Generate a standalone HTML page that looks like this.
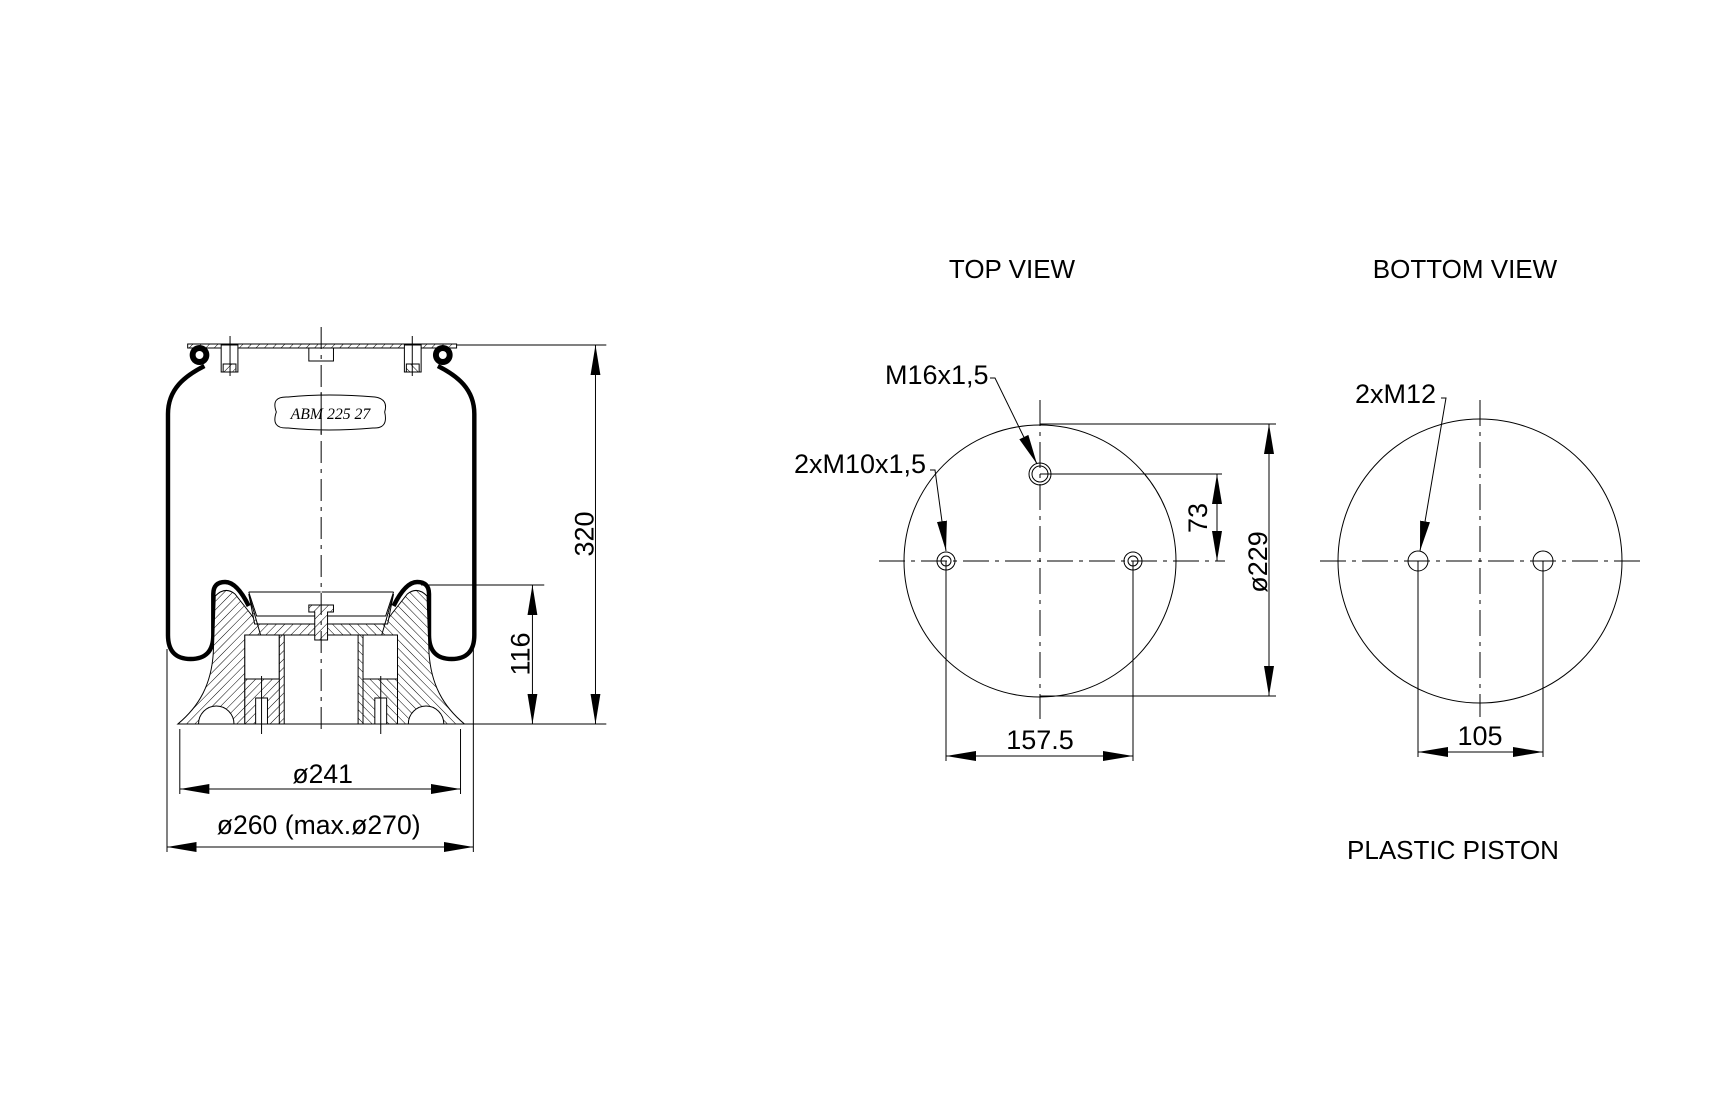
<!DOCTYPE html>
<html><head><meta charset="utf-8"><style>
html,body{margin:0;padding:0;background:#fff;}
svg{display:block;}
text{font-family:"Liberation Sans Narrow","Liberation Sans",sans-serif;fill:#000;}
</style></head><body>
<svg width="1723" height="1115" viewBox="0 0 1723 1115" xmlns="http://www.w3.org/2000/svg">
<defs>
<pattern id="h" width="6" height="6" patternUnits="userSpaceOnUse" patternTransform="rotate(45)">
<rect width="6" height="6" fill="#fff"/><line x1="0" y1="0" x2="0" y2="6" stroke="#000" stroke-width="1"/></pattern>
<marker id="a" viewBox="0 0 30 10" refX="30" refY="5" markerWidth="30" markerHeight="10" markerUnits="userSpaceOnUse" orient="auto-start-reverse"><path d="M0 0 L30 5 L0 10 Z" fill="#000"/></marker>
<g id="half">
 <path d="M205 372 C185 382 168 395 168 420 L168 641 Q168 665 191 665 Q214 665 214 641 L214 600 Q214 588 226 588 Q238 588 250 612" fill="none" stroke="#000" stroke-width="4.5"/>
 <circle cx="200" cy="361" r="10" fill="#000"/><circle cx="200" cy="361" r="4" fill="#fff"/>
 <path d="M178 730 C200 712 212 690 214 659 L216 602 Q226 592 236 600 L252 620 L262 634 L262 641 L246 641 L246 730 Z" fill="url(#h)" stroke="#000" stroke-width="1"/>
 <path d="M199 730 A18 18 0 0 1 235 730 Z" fill="#fff" stroke="#000" stroke-width="1"/>
 <rect x="246" y="641" width="35" height="44" fill="#fff" stroke="#000" stroke-width="1"/>
 <rect x="246" y="685" width="38" height="45" fill="url(#h)" stroke="#000" stroke-width="1"/>
 <rect x="257" y="704" width="12" height="26" fill="#fff" stroke="#000" stroke-width="1"/>
 <line x1="263" y1="682" x2="263" y2="740" stroke="#000"/>
 <rect x="281" y="641" width="5" height="89" fill="url(#h)" stroke="#000" stroke-width="1"/>
 <path d="M250 600 L256 630 L323 630 L323 641 L262 641 Z" fill="url(#h)" stroke="#000" stroke-width="1"/>
 <line x1="250" y1="598" x2="323" y2="598" stroke="#000"/>
 <path d="M250 598 L258 622 L323 622" fill="none" stroke="#000"/>
 <rect x="222" y="351" width="17" height="27" fill="#fff" stroke="#000"/>
 <rect x="224" y="370" width="13" height="8" fill="url(#h)" stroke="#000"/>
 <line x1="231" y1="342" x2="231" y2="382" stroke="#000"/>
</g>
</defs>

<g transform="translate(167,-6) scale(0.985,1) translate(-167,0)">
<rect x="188" y="350" width="273" height="4" fill="url(#h)" stroke="#000" stroke-width="1"/>
<rect x="311" y="354" width="25" height="13" fill="#fff" stroke="#000"/>
<use href="#half"/>
<use href="#half" transform="translate(647,0) scale(-1,1)"/>
<path d="M311 611 L336 611 L336 618 L330 618 L330 646 L317 646 L317 618 L311 618 Z" fill="url(#h)" stroke="#000"/>
<line x1="323.5" y1="333" x2="323.5" y2="740" stroke="#000" stroke-dasharray="22,6,4,6"/>
<path d="M278 418 Q272 402 290 403 Q330 399 378 403 Q392 405 388 418 Q392 435 376 434 Q330 438 290 434 Q272 435 278 418 Z" fill="#fff" stroke="#000" stroke-width="1"/>
<text x="333" y="425" font-style="italic" font-size="16" text-anchor="middle" style="font-family:'Liberation Serif',serif">ABM  225  27</text>
<line x1="323.5" y1="398" x2="323.5" y2="440" stroke="#000"/>
<g stroke="#000" stroke-width="1" fill="none">
<line x1="461" y1="351" x2="613" y2="351"/>
<line x1="178" y1="730" x2="613" y2="730"/>
<line x1="425" y1="591" x2="550" y2="591"/>
<line x1="602" y1="351" x2="602" y2="730" marker-start="url(#a)" marker-end="url(#a)"/>
<line x1="538" y1="591" x2="538" y2="730" marker-start="url(#a)" marker-end="url(#a)"/>
<line x1="180" y1="735" x2="180" y2="800"/>
<line x1="465" y1="735" x2="465" y2="800"/>
<line x1="180" y1="795" x2="465" y2="795" marker-start="url(#a)" marker-end="url(#a)"/>
<line x1="167" y1="655" x2="167" y2="858"/>
<line x1="478" y1="655" x2="478" y2="858"/>
<line x1="167" y1="853" x2="478" y2="853" marker-start="url(#a)" marker-end="url(#a)"/>
</g>
<text x="325" y="789" font-size="27" text-anchor="middle">ø241</text>
<text x="321" y="840" font-size="27" text-anchor="middle">ø260  (max.ø270)</text>
<text transform="translate(600,540) rotate(-90)" font-size="27" text-anchor="middle">320</text>
<text transform="translate(535,660) rotate(-90)" font-size="27" text-anchor="middle">116</text>
</g>

<text x="1012" y="278" font-size="26" text-anchor="middle">TOP  VIEW</text>
<text x="1465" y="278" font-size="26" text-anchor="middle">BOTTOM  VIEW</text>
<text x="1453" y="859" font-size="26" text-anchor="middle">PLASTIC  PISTON</text>

<g transform="translate(-3,-4)">
<g stroke="#000" stroke-width="1" fill="none">
<circle cx="1043" cy="565" r="136"/>
<line x1="882" y1="565" x2="1228" y2="565" stroke-dasharray="26,6,4,6"/>
<line x1="1043" y1="404" x2="1043" y2="723" stroke-dasharray="26,6,4,6"/>
<circle cx="1043" cy="478" r="11"/><circle cx="1043" cy="478" r="8"/>
<circle cx="949" cy="565" r="9"/><circle cx="949" cy="565" r="5"/>
<circle cx="1136" cy="565" r="9"/><circle cx="1136" cy="565" r="5"/>
<line x1="1043" y1="478" x2="1225" y2="478"/>
<line x1="1220" y1="478" x2="1220" y2="565" marker-start="url(#a)" marker-end="url(#a)"/>
<line x1="1043" y1="428" x2="1279" y2="428"/>
<line x1="1043" y1="700" x2="1279" y2="700"/>
<line x1="1272" y1="428" x2="1272" y2="700" marker-start="url(#a)" marker-end="url(#a)"/>
<line x1="949" y1="565" x2="949" y2="765"/>
<line x1="1136" y1="565" x2="1136" y2="765"/>
<line x1="949" y1="760" x2="1136" y2="760" marker-start="url(#a)" marker-end="url(#a)"/>
<polyline points="993,382 998,382 1040,468" marker-end="url(#a)"/>
<polyline points="933,474 938,474 949,555" marker-end="url(#a)"/>
</g>
<text x="888" y="388" font-size="27">M16x1,5</text>
<text x="797" y="477" font-size="27">2xM10x1,5</text>
<text x="1043" y="753" font-size="27" text-anchor="middle">157.5</text>
<text transform="translate(1210,522) rotate(-90)" font-size="27" text-anchor="middle">73</text>
<text transform="translate(1270,566) rotate(-90)" font-size="27" text-anchor="middle">ø229</text>
</g>

<g transform="translate(-9,-4)">
<g stroke="#000" stroke-width="1" fill="none">
<circle cx="1489" cy="565" r="142"/>
<line x1="1329" y1="565" x2="1650" y2="565" stroke-dasharray="26,6,4,6"/>
<line x1="1489" y1="404" x2="1489" y2="721" stroke-dasharray="26,6,4,6"/>
<circle cx="1427" cy="565" r="10"/><circle cx="1552" cy="565" r="10"/>
<line x1="1427" y1="565" x2="1427" y2="761"/>
<line x1="1552" y1="565" x2="1552" y2="761"/>
<line x1="1427" y1="756" x2="1552" y2="756" marker-start="url(#a)" marker-end="url(#a)"/>
<polyline points="1450,402 1455,402 1429,555" marker-end="url(#a)"/>
</g>
<text x="1364" y="407" font-size="27">2xM12</text>
<text x="1489" y="749" font-size="27" text-anchor="middle">105</text>
</g>
</svg>
</body></html>
